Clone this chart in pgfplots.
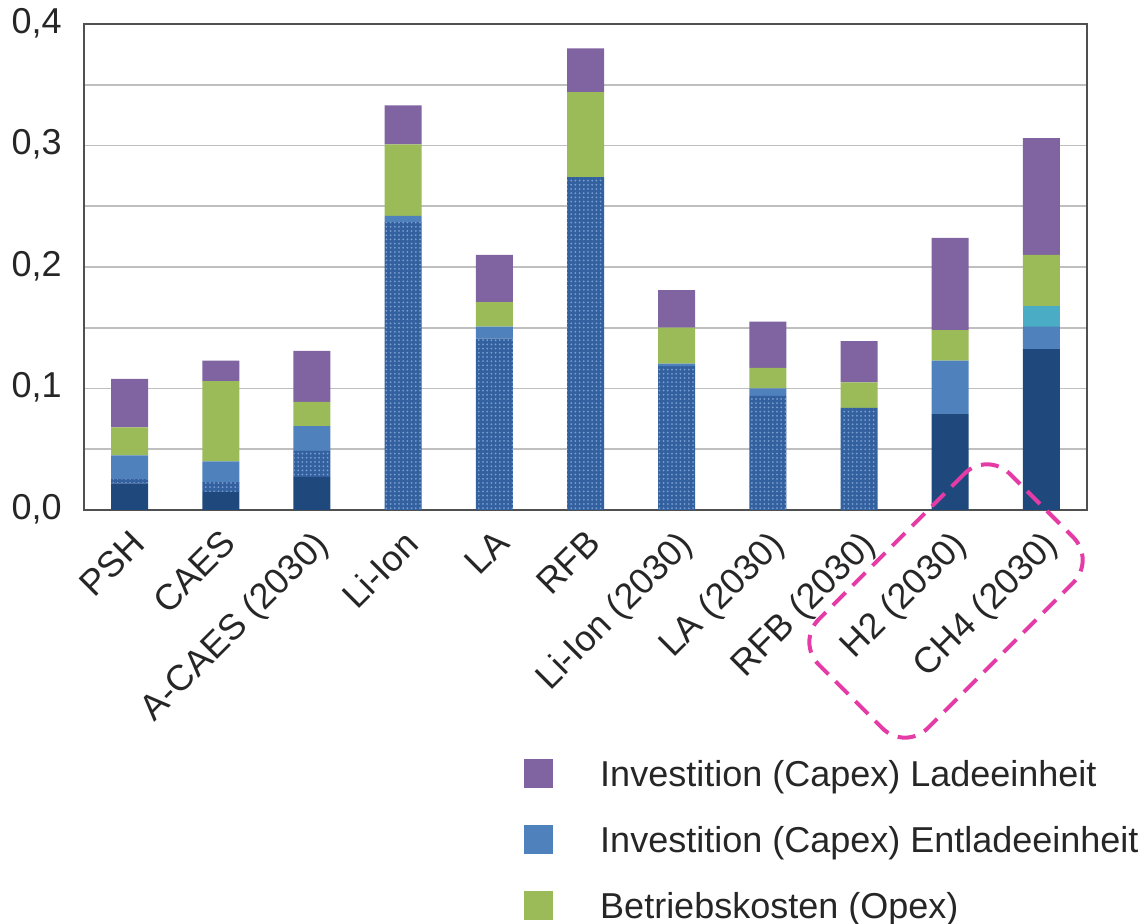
\documentclass[border=0pt]{standalone}
\usepackage{pgfplots}
\pgfplotsset{compat=1.18}
\usepackage{pgfplotstable}
\usepackage{fontspec}
\setmainfont{Liberation Sans}
\usetikzlibrary{patterns.meta}

\definecolor{speicher}{HTML}{1F497D}
\definecolor{dotbase}{HTML}{33609E}
\definecolor{dotfg}{HTML}{7AA0D3}
\definecolor{entlade}{HTML}{4F81BD}
\definecolor{aqua}{HTML}{4BACC6}
\definecolor{opex}{HTML}{9BBB59}
\definecolor{lade}{HTML}{8064A2}
\definecolor{framec}{HTML}{505050}
\definecolor{gridc}{HTML}{BFBFBF}
\definecolor{markc}{HTML}{E43BA6}

% cost components per technology (stacked, bottom to top)
\pgfplotstableread{
x   speicher dots   entl   aqua   opex   lade
0   0.022    0.0035 0.0195 0.000  0.023  0.040
1   0.015    0.008  0.017  0.000  0.066  0.017
2   0.027    0.0216 0.0204 0.000  0.020  0.042
3   0.000    0.237  0.005  0.000  0.059  0.032
4   0.000    0.141  0.010  0.000  0.020  0.039
5   0.000    0.274  0.000  0.000  0.070  0.036
6   0.000    0.1185 0.002  0.000  0.0295 0.031
7   0.000    0.094  0.006  0.000  0.017  0.038
8   0.000    0.084  0.000  0.000  0.021  0.034
9   0.079    0.000  0.044  0.000  0.025  0.076
10  0.1325   0.000  0.0185 0.017  0.042  0.096
}\costs

\begin{document}
\begin{tikzpicture}[x=1pt,y=1pt]
\path[use as bounding box] (0,0) rectangle (572,462);
\begin{axis}[
  at={(42pt,207pt)}, anchor=south west,
  scale only axis, width=501.5pt, height=243pt,
  ybar stacked, bar width=18.5pt,
  xmin=-0.5, xmax=10.5, ymin=0, ymax=0.4,
  xtick={0,...,10},
  xticklabels={PSH, CAES, A-CAES (2030), Li-Ion, LA, RFB, Li-Ion (2030), LA (2030), RFB (2030), H2 (2030), CH4 (2030)},
  ytick={0,0.1,0.2,0.3,0.4},
  minor ytick={0.05,0.15,0.25,0.35},
  ymajorgrids, yminorgrids,
  major grid style={draw=gridc, line width=0.8pt},
  minor grid style={draw=gridc, line width=0.8pt},
  major tick length=0pt, minor tick length=0pt,
  axis line style={draw=framec, line width=1pt},
  font=\fontsize{18}{21.6}\selectfont,
  tick label style={text=black!85},
  /pgf/number format/fixed,
  /pgf/number format/fixed zerofill,
  /pgf/number format/precision=1,
  /pgf/number format/use comma,
  /pgf/number format/assume math mode=true,
  yticklabel style={inner sep=0pt, xshift=-11pt, yshift=0.5pt},
  xticklabel style={rotate=45, anchor=north east, inner sep=0pt, xshift=-6.5pt, yshift=-6pt},
  legend style={at={(0.4385,-0.512)}, anchor=north west, draw=none, fill=none,
    inner sep=0pt, row sep=16pt,
    /tikz/every odd column/.append style={column sep=23.5pt},
    nodes={inner sep=0pt, text height=12.5pt, text depth=3.5pt, anchor=base west},
    font=\fontsize{18}{21.6}\selectfont, text=black!85},
  legend cell align=left,
  legend image code/.code={
    \fill[#1, draw=none] (0pt,-0.95pt) rectangle (14.5pt,13.55pt);
  },
  every axis plot/.append style={draw=none},
]
\addplot+[fill=speicher, forget plot] table[x=x, y=speicher] {\costs};
\addplot+[fill=dotbase, forget plot,
  postaction={pattern={Dots[radius=0.5pt, distance=2.1pt]}, pattern color=dotfg}]
  table[x=x, y=dots] {\costs};
\addplot+[fill=entlade, forget plot] table[x=x, y=entl] {\costs};
\addplot+[fill=aqua, forget plot] table[x=x, y=aqua] {\costs};
\addplot+[fill=opex, forget plot] table[x=x, y=opex] {\costs};
\addplot+[fill=lade, forget plot] table[x=x, y=lade] {\costs};
% legend entries in display order
\addlegendimage{fill=lade, draw=none}
\addlegendentry{Investition (Capex) Ladeeinheit}
\addlegendimage{fill=entlade, draw=none}
\addlegendentry{Investition (Capex) Entladeeinheit}
\addlegendimage{fill=opex, draw=none}
\addlegendentry{Betriebskosten (Opex)}
\end{axis}
% highlight around the two power-to-gas technologies
\node[draw=markc, line width=2pt, dash pattern=on 9pt off 5pt,
  rounded corners=16pt, minimum width=135pt, minimum height=77pt,
  rotate=45, inner sep=0pt] at (473,161.5) {};
\end{tikzpicture}
\end{document}
